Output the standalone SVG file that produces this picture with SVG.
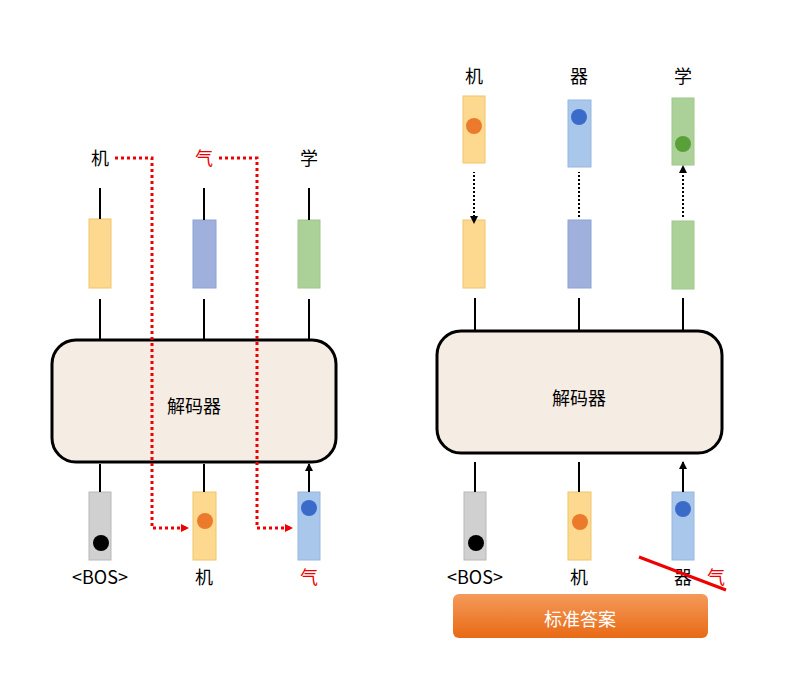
<svg xmlns="http://www.w3.org/2000/svg" width="791" height="679" viewBox="0 0 791 679">
<style>
.t{font-family:"Noto Sans CJK SC","Liberation Serif",serif;font-size:18px;text-anchor:middle}
.a{stroke:#000;stroke-width:2;fill:none;marker-end:url(#ah)}
.r{stroke:#e00;stroke-width:3;stroke-dasharray:3 3;fill:none}
.dec{fill:#f5ede4;stroke:#000;stroke-width:3}
.y{fill:#fdd98f;stroke:#f1c468}.b{fill:#9fb0dc;stroke:#8ea2d6}.g{fill:#acd198;stroke:#9cc888}.gr{fill:#d0d0d0;stroke:#b8b8b8}.lb{fill:#a9c7ea;stroke:#95b7e2}
</style>
<defs>
<marker id="ah" markerWidth="8" markerHeight="8" refX="7" refY="4" orient="auto" markerUnits="userSpaceOnUse"><path d="M0,0L8,4L0,8z" fill="#000"/></marker>
<marker id="ahs" markerWidth="8" markerHeight="8" refX="1" refY="4" orient="auto-start-reverse" markerUnits="userSpaceOnUse"><path d="M0,0L8,4L0,8z" fill="#000"/></marker>
<marker id="rh" markerWidth="8" markerHeight="8" refX="7" refY="4" orient="auto" markerUnits="userSpaceOnUse"><path d="M0,0L8,4L0,8z" fill="#e00"/></marker>
<linearGradient id="og" x1="0" y1="0" x2="0" y2="1"><stop offset="0" stop-color="#f59a5a"/><stop offset="1" stop-color="#e86a15"/></linearGradient>
</defs>
<g id="left">
<g id="ldec"><rect class="dec" x="52" y="340" width="284" height="122" rx="24"/><text class="t" x="194" y="413" font-size="30">解码器</text></g>
<g id="lout"><rect class="y" x="89" y="219" width="22" height="69"/><rect class="b" x="193" y="220" width="23" height="68"/><rect class="g" x="298" y="220" width="22" height="68"/>
<text class="t" x="100" y="165">机</text><text class="t" x="204" y="165" fill="#e00">气</text><text class="t" x="309" y="165">学</text></g>
<g id="lin"><rect class="gr" x="89" y="492" width="22" height="68"/><circle cx="101" cy="543" r="8" fill="#000"/>
<rect class="y" x="193" y="492" width="23" height="68"/><circle cx="205" cy="521" r="8" fill="#ec7a2c"/>
<rect class="lb" x="298" y="492" width="22" height="68"/><circle cx="309" cy="508" r="8" fill="#3a6bc9"/>
<text class="t" x="100" y="584" font-family="Liberation Serif">&lt;BOS&gt;</text><text class="t" x="204" y="584">机</text><text class="t" x="309" y="584" fill="#e00">气</text></g>
</g>
<g id="right">
<g id="rdec"><rect class="dec" x="437" y="331" width="285" height="122" rx="24"/><text class="t" x="579" y="405" font-size="30">解码器</text></g>
<g id="rtgt"><rect class="y" x="463" y="96" width="22" height="67"/><circle cx="474" cy="126" r="8" fill="#ec7a2c"/>
<rect class="lb" x="568" y="100" width="23" height="67"/><circle cx="579" cy="117" r="8" fill="#3a6bc9"/>
<rect class="g" x="672" y="98" width="22" height="67"/><circle cx="683" cy="144" r="8" fill="#5aa03a"/>
<text class="t" x="474" y="83">机</text><text class="t" x="579" y="83">器</text><text class="t" x="683" y="83">学</text></g>
<g id="rout"><rect class="y" x="463" y="220" width="22" height="68"/><rect class="b" x="568" y="220" width="23" height="68"/><rect class="g" x="672" y="221" width="22" height="68"/></g>
<g id="rin"><rect class="gr" x="464" y="492" width="22" height="68"/><circle cx="476" cy="543" r="8" fill="#000"/>
<rect class="y" x="568" y="492" width="23" height="68"/><circle cx="580" cy="522" r="8" fill="#ec7a2c"/>
<rect class="lb" x="672" y="492" width="22" height="68"/><circle cx="683" cy="509" r="8" fill="#3a6bc9"/>
<text class="t" x="475" y="584" font-family="Liberation Serif">&lt;BOS&gt;</text><text class="t" x="579" y="584">机</text><text class="t" x="683" y="584">器</text><text class="t" x="716" y="584" fill="#e00">气</text></g>
<g id="btn"><rect x="453" y="594" width="255" height="44" rx="6" fill="url(#og)"/><text class="t" x="580" y="626" font-size="26" fill="#fff">标准答案</text></g>
</g>
<g id="connectors">
<path class="a" d="M100 219V188M204 220V188M309 220V188M100 340V299M204 340V299M309 340V299M100 492V464M204 492V464M309 492V464"/>
<path class="a" d="M475 331V298M579 331V298M683 331V298M475 492V462M579 492V462M683 492V462"/>
<path d="M474 217V172M579 217V172M683 217V172" stroke="#000" stroke-width="2" stroke-dasharray="2 2" fill="none" marker-end="url(#ahs)" marker-start="url(#ahs)"/>
<path class="r" d="M115 158H152V528H188" marker-end="url(#rh)"/>
<path class="r" d="M219 158H257V528H292" marker-end="url(#rh)"/>
<line x1="639" y1="557" x2="726" y2="590" stroke="#e00" stroke-width="3"/>
</g>
</svg>
